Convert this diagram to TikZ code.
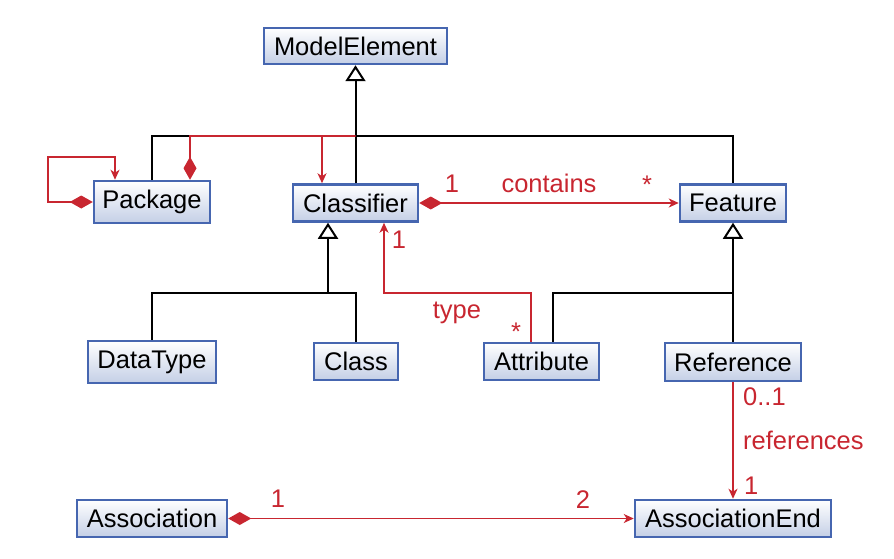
\documentclass[tikz,border=0pt]{standalone}
\usepackage{fontspec}
\setmainfont{Liberation Sans}
\usetikzlibrary{arrows.meta,calc}
\definecolor{umlred}{RGB}{200,38,48}
\definecolor{umlblue}{RGB}{70,102,176}
\definecolor{umlbot}{RGB}{196,207,230}
\tikzset{
  cls/.style={draw=umlblue, line width=2.5pt, top color=white, bottom color=umlbot,
    inner sep=0pt, font=\fontsize{25.5}{30}\selectfont, text=black},
  gen/.style={line width=2pt, black, -{Triangle[open, length=16pt, width=20pt, fill=white, line width=2pt]}},
  genline/.style={line width=2pt, black},
  assoc/.style={line width=1.6pt, umlred, -{Stealth[length=10pt, width=9pt, inset=3pt]}},
  comp/.style={line width=1.6pt, umlred, {Diamond[length=23pt, width=13pt]}-{Stealth[length=10pt, width=9pt, inset=3pt]}},
  lbl/.style={text=umlred, inner sep=0pt, anchor=base, font=\fontsize{25.5}{30}\selectfont},
  lblw/.style={lbl, anchor=base west}
}
\begin{document}
\begin{tikzpicture}[x=1pt, y=-1pt]
\useasboundingbox (0,0) rectangle (894,559);
% nodes
\node[cls, minimum width=183pt, minimum height=36pt] (ModelElement) at (355.5,46) {ModelElement};
\node[cls, minimum width=116pt, minimum height=42pt] (Package) at (152,202) {Package};
\node[cls, minimum width=125pt, minimum height=37pt] (Classifier) at (355.5,203) {Classifier};
\node[cls, minimum width=106pt, minimum height=37pt] (Feature) at (733,203) {Feature};
\node[cls, minimum width=128pt, minimum height=42pt] (DataType) at (152,362) {DataType};
\node[cls, minimum width=84pt, minimum height=37pt] (Class) at (356,361.5) {Class};
\node[cls, minimum width=115pt, minimum height=37pt] (Attribute) at (541.5,361.5) {Attribute};
\node[cls, minimum width=136pt, minimum height=38pt] (Reference) at (733,362) {Reference};
\node[cls, minimum width=150pt, minimum height=37pt] (Association) at (152,518.5) {Association};
\node[cls, minimum width=196pt, minimum height=37pt] (AssociationEnd) at (733,518.5) {AssociationEnd};
% junction coordinates
\coordinate (g1) at (355.5,136);
\coordinate (g2) at (328,293);
\coordinate (g3) at (733,293);
\coordinate (p1) at (48,157);
\coordinate (c3) at (384,293);
% generalizations
\draw[genline] (Package.north) |- (g1) -| (Feature.north);
\draw[gen] (Classifier.north) -- (ModelElement.south);
\draw[genline] (DataType.north) |- (g2) -| (Class.north);
\draw[gen] (g2) -- (g2 |- Classifier.south);
\draw[genline] ([xshift=11.5pt]Attribute.north) |- (g3);
\draw[gen] (Reference.north) -- (Feature.south);
% red associations
\draw[comp] (Package.west) -| (p1) -| ([xshift=-37pt]Package.north);
\draw[comp] ([xshift=38pt]Package.north) |- (g1 -| Classifier.north) -| ([xshift=-33.5pt]Classifier.north);
\draw[comp] (Classifier.east) -- (Feature.west);
\draw[assoc] ([xshift=-10.5pt]Attribute.north) |- (c3) -- (c3 |- Classifier.south);
\draw[assoc] (Reference.south) -- (AssociationEnd.north);
\draw[comp] (Association.east) -- (AssociationEnd.west);
% labels
\node[lbl] (l1) at (452,192) {1};
\node[lbl] (l2) at (549,192) {contains};
\node[lbl] (l3) at (647,193) {*};
\node[lbl] (l4) at (399,248) {1};
\node[lbl] (l5) at (457,318) {type};
\node[lbl] (l6) at (516,340) {*};
\node[lblw] (l7) at (743,405) {0..1};
\node[lblw] (l8) at (743,449) {references};
\node[lblw] (l9) at (744,494) {1};
\node[lbl] (l10) at (278,507) {1};
\node[lbl] (l11) at (583,508) {2};
\end{tikzpicture}
\end{document}
